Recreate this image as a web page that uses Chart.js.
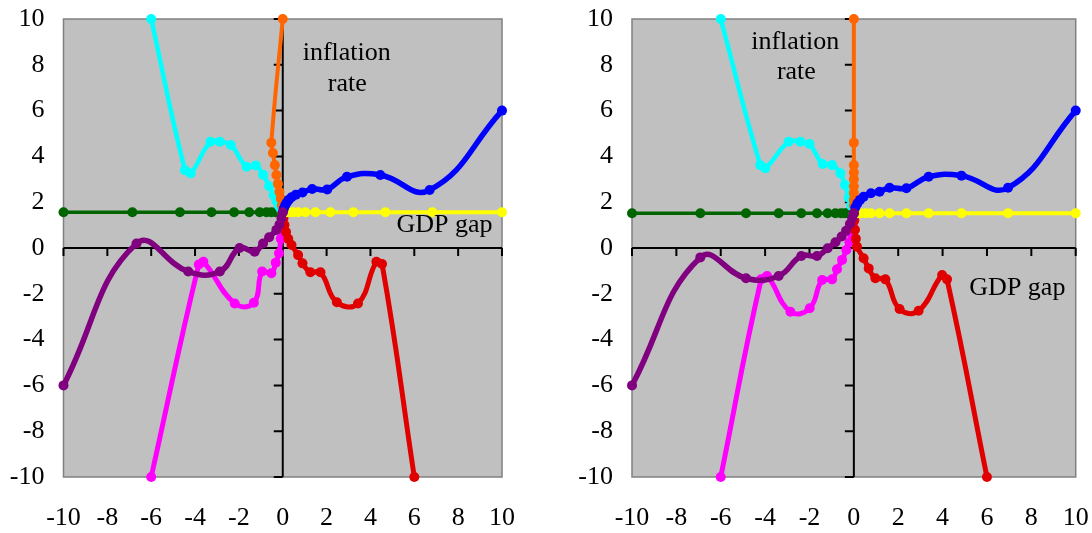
<!DOCTYPE html>
<html>
<head>
<meta charset="utf-8">
<script src="https://cdn.jsdelivr.net/npm/chart.js@4"></script>
<style>
  body { margin: 0; background: #fff; }
  .wrap { position: absolute; top: 0; width: 546px; height: 533px; }
  #w1 { left: 0; }
  #w2 { left: 546px; }
</style>
</head>
<body>
<div class="wrap" id="w1"><canvas id="left" width="546" height="533"></canvas></div>
<div class="wrap" id="w2"><canvas id="right" width="546" height="533"></canvas></div>
<script>
// ticks
const ticks = [-10, -8, -6, -4, -2, 0, 2, 4, 6, 8, 10];

// left panel [gdp gap, inflation]
const cyanL = [[-6, 10], [-4.46, 3.4], [-4.2, 3.26], [-3.3, 4.64], [-2.87, 4.64], [-2.37, 4.5], [-1.65, 3.55], [-1.23, 3.6], [-0.9, 3.2], [-0.62, 2.7], [-0.42, 2.3], [-0.29, 2.05], [-0.18, 1.85], [-0.08, 1.68], [0, 1.56]];
const orangeL = [[0, 10], [-0.52, 4.6], [-0.45, 4.15], [-0.36, 3.62], [-0.29, 3.19], [-0.22, 2.8], [-0.15, 2.45], [-0.09, 2.15], [-0.04, 1.85], [0, 1.56]];
const greenL = [[-10, 1.56], [-6.86, 1.56], [-4.69, 1.56], [-3.25, 1.56], [-2.22, 1.56], [-1.53, 1.56], [-1.05, 1.56], [-0.74, 1.56], [-0.52, 1.56], [-0.32, 1.56], [-0.2, 1.56], [-0.1, 1.56], [0, 1.56]];
const yellowL = [[0, 1.56], [0.1, 1.56], [0.16, 1.56], [0.23, 1.56], [0.33, 1.56], [0.48, 1.56], [0.7, 1.56], [1.03, 1.56], [1.49, 1.56], [2.17, 1.56], [3.22, 1.56], [4.68, 1.56], [6.82, 1.56], [10, 1.56]];
const blueL = [[10, 6], [6.7, 2.53], [4.45, 3.19], [2.93, 3.11], [2.03, 2.56], [1.34, 2.58], [0.9, 2.42], [0.6, 2.33], [0.4, 2.22], [0.27, 2.1], [0.18, 1.98], [0.11, 1.86], [0.05, 1.72], [0, 1.56]];
const redL = [[0, 1.56], [0.03, 1.3], [0.08, 1.0], [0.15, 0.7], [0.25, 0.4], [0.4, 0.13], [0.7, -0.31], [0.9, -0.67], [1.26, -1.06], [1.72, -1.06], [2.47, -2.37], [3.43, -2.42], [4.27, -0.6], [4.53, -0.7], [6, -10]];
const magentaL = [[0, 1.56], [-0.02, 1.2], [-0.05, 0.8], [-0.09, 0.4], [-0.17, -0.23], [-0.32, -0.64], [-0.52, -1.1], [-0.94, -1.03], [-1.32, -2.39], [-2.19, -2.42], [-3.62, -0.6], [-3.83, -0.72], [-6, -10]];
const purpleL = [[0, 1.56], [-0.06, 1.3], [-0.15, 1.02], [-0.29, 0.79], [-0.62, 0.47], [-0.9, 0.2], [-1.28, -0.16], [-1.97, 0], [-2.87, -1.03], [-4.31, -1.03], [-6.67, 0.2], [-10, -6]];

// right panel [gdp gap, inflation]
const cyanR = [[-6, 10], [-4.22, 3.62], [-3.99, 3.48], [-2.94, 4.64], [-2.41, 4.64], [-2.0, 4.54], [-1.41, 3.67], [-0.98, 3.62], [-0.61, 3.26], [-0.4, 2.75], [-0.23, 2.2], [-0.12, 1.85], [0, 1.52]];
const orangeR = [[0, 10], [0, 4.6], [0, 3.62], [0, 3.3], [0, 3.0], [0, 2.7], [0, 2.4], [0, 2.1], [0, 1.85], [0, 1.52]];
const greenR = [[-10, 1.52], [-6.92, 1.52], [-4.86, 1.52], [-3.39, 1.52], [-2.37, 1.52], [-1.66, 1.52], [-1.18, 1.52], [-0.83, 1.52], [-0.58, 1.52], [-0.41, 1.52], [-0.28, 1.52], [-0.2, 1.52], [-0.12, 1.52], [0, 1.52]];
const yellowR = [[0, 1.52], [0.15, 1.52], [0.29, 1.52], [0.52, 1.52], [0.77, 1.52], [1.16, 1.52], [1.61, 1.52], [2.37, 1.52], [3.37, 1.52], [4.85, 1.52], [6.95, 1.52], [10, 1.52]];
const blueR = [[10, 6], [6.95, 2.63], [4.85, 3.16], [3.37, 3.11], [2.37, 2.61], [1.61, 2.63], [1.16, 2.46], [0.77, 2.39], [0.44, 2.24], [0.28, 2.1], [0.16, 1.95], [0.07, 1.78], [0, 1.52]];
const redR = [[0, 1.52], [0.02, 1.2], [0.05, 0.8], [0.09, 0.4], [0.14, 0.06], [0.44, -0.45], [0.67, -0.89], [0.97, -1.32], [1.42, -1.37], [2.06, -2.66], [2.92, -2.74], [3.98, -1.18], [4.2, -1.37], [6, -10]];
const magentaR = [[0, 1.52], [-0.03, 1.1], [-0.1, 0.6], [-0.2, 0.25], [-0.34, -0.09], [-0.53, -0.52], [-0.76, -0.93], [-0.98, -1.37], [-1.43, -1.4], [-1.99, -2.63], [-2.86, -2.78], [-3.91, -1.22], [-4.18, -1.37], [-6, -10]];
const purpleR = [[0, 1.52], [-0.07, 1.3], [-0.18, 1.05], [-0.35, 0.75], [-0.55, 0.5], [-0.83, 0.25], [-1.18, -0.01], [-1.66, -0.35], [-2.37, -0.35], [-3.39, -1.22], [-4.86, -1.32], [-6.92, -0.41], [-10, -6]];

const FONT = "'Liberation Serif', 'Times New Roman', serif";

function series(pts, color, width) {
  return {
    data: pts.map(p => ({ x: p[0], y: p[1] })),
    showLine: true,
    borderColor: color,
    backgroundColor: color,
    borderWidth: width,
    pointRadius: 5,
    pointBorderWidth: 0,
    pointHoverRadius: 5,
    tension: 0.45,
    clip: false,
  };
}

// background, frame, zero axes and text
const panelPlugin = {
  id: "panel",
  beforeDatasetsDraw(chart, args, opts) {
    const { ctx, chartArea: a, scales: { x, y } } = chart;
    ctx.save();
    ctx.fillStyle = "#c0c0c0";
    ctx.fillRect(a.left, a.top, a.right - a.left, a.bottom - a.top);
    ctx.strokeStyle = "#808080";
    ctx.lineWidth = 1.5;
    ctx.strokeRect(a.left, a.top, a.right - a.left, a.bottom - a.top);

    const x0 = x.getPixelForValue(0);
    const y0 = y.getPixelForValue(0);
    ctx.strokeStyle = "#000";
    ctx.lineWidth = 2;
    ctx.beginPath();
    ctx.moveTo(x0, a.top);
    ctx.lineTo(x0, a.bottom);
    ctx.moveTo(a.left, y0);
    ctx.lineTo(a.right, y0);
    ticks.forEach(t => {
      const py = y.getPixelForValue(t);
      ctx.moveTo(x0 - 9, py);
      ctx.lineTo(x0, py);
      const px = x.getPixelForValue(t);
      ctx.moveTo(px, y0);
      ctx.lineTo(px, y0 + 8);
    });
    ctx.stroke();
    ctx.restore();
  },
  afterDatasetsDraw(chart, args, opts) {
    const { ctx, scales: { x, y } } = chart;
    ctx.save();
    ctx.fillStyle = "#000";
    ctx.font = "26px " + FONT;
    ctx.textAlign = "center";
    ctx.textBaseline = "alphabetic";
    opts.labels.forEach(l => {
      ctx.fillText(l.text, x.getPixelForValue(l.x), y.getPixelForValue(l.y));
    });
    ctx.restore();
  },
};

function makeChart(id, sets, yWidth, padRight, labels) {
  const [cyan, orange, green, yellow, blue, red, magenta, purple] = sets;
  new Chart(document.getElementById(id), {
    type: "scatter",
    data: {
      datasets: [
        series(purple, "#800080", 5.5),
        series(blue, "#0000ff", 5.5),
        series(yellow, "#ffff00", 4),
        series(red, "#e00000", 5),
        series(magenta, "#ff00ff", 5),
        series(orange, "#ff6600", 4),
        series(cyan, "#00ffff", 4.5),
        series(green, "#006400", 3.5),
      ],
    },
    options: {
      responsive: false,
      animation: false,
      events: [],
      layout: { padding: { top: 19, right: padRight, left: 0, bottom: 0 } },
      plugins: {
        legend: { display: false },
        tooltip: { enabled: false },
        panel: { labels: labels },
      },
      scales: {
        x: {
          type: "linear",
          min: -10,
          max: 10,
          afterFit: s => { s.height = 56; s.paddingLeft = 0; s.paddingRight = 0; },
          afterBuildTicks: s => { s.ticks = ticks.map(v => ({ value: v })); },
          grid: { display: false, drawTicks: false },
          border: { display: false },
          ticks: { color: "#000", padding: 26, font: { family: FONT, size: 26 } },
        },
        y: {
          type: "linear",
          min: -10,
          max: 10,
          afterFit: s => { s.width = yWidth; s.paddingTop = 0; s.paddingBottom = 0; },
          afterBuildTicks: s => { s.ticks = ticks.map(v => ({ value: v })); },
          grid: { display: false, drawTicks: false },
          border: { display: false },
          ticks: { color: "#000", padding: 19, font: { family: FONT, size: 26 } },
        },
      },
    },
    plugins: [panelPlugin],
  });
}

makeChart("left", [cyanL, orangeL, greenL, yellowL, blueL, redL, magentaL, purpleL], 63.5, 44, [
  { text: "inflation", x: 2.92, y: 8.21 },
  { text: "rate", x: 2.94, y: 6.87 },
  { text: "GDP gap", x: 7.38, y: 0.69 },
]);
makeChart("right", [cyanR, orangeR, greenR, yellowR, blueR, redR, magentaR, purpleR], 86, 16.3, [
  { text: "inflation", x: -2.64, y: 8.68 },
  { text: "rate", x: -2.59, y: 7.37 },
  { text: "GDP gap", x: 7.37, y: -2.05 },
]);
</script>
</body>
</html>
